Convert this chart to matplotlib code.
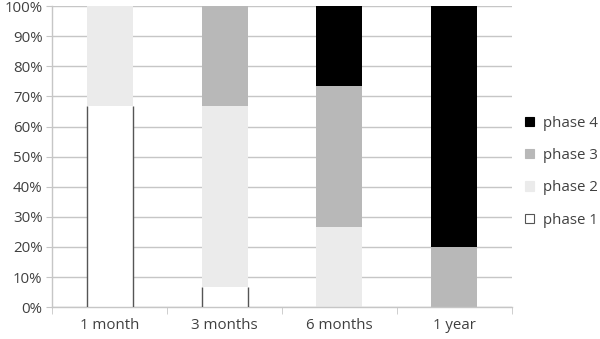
"""Stacked 100% bars of phase shares over follow-up time."""

import matplotlib.pyplot as plt
from matplotlib.patches import Patch
from matplotlib.ticker import PercentFormatter, FixedLocator
import numpy as np


categories = ["1 month", "3 months", "6 months", "1 year"]
phase_names = ["phase 1", "phase 2", "phase 3", "phase 4"]
phase_1 = [66.7, 6.7, 0.0, 0.0]
phase_2 = [33.3, 60.0, 26.7, 0.0]
phase_3 = [0.0, 33.3, 46.6, 20.0]
phase_4 = [0.0, 0.0, 26.7, 80.0]

colors = ["#ffffff", "#ebebeb", "#b8b8b8", "#000000"]
TEXT = "#404040"
GRID = "#c6c6c6"
BAR_W = 0.4
FS = 10.8

plt.rcParams["font.family"] = ["Open Sans", "DejaVu Sans"]

fig = plt.figure(figsize=(6.0, 3.39), dpi=100)
ax = fig.add_axes([0.087, 0.094, 0.766, 0.888])

x = np.arange(len(categories))
series = [phase_1, phase_2, phase_3, phase_4]
bottom = np.zeros(len(categories))
for vals, color in zip(series, colors):
    vals = np.array(vals)
    ax.bar(x, vals, BAR_W, bottom=bottom, color=color, linewidth=0, zorder=2)
    bottom += vals

# phase 1 is white, so only its sides are outlined
p1 = np.array(phase_1)
has_p1 = p1 > 0
ax.vlines(np.concatenate([x[has_p1] - BAR_W / 2, x[has_p1] + BAR_W / 2]),
          0, np.concatenate([p1[has_p1], p1[has_p1]]),
          color="#555555", linewidth=1.0, zorder=3)

ax.set_xlim(-0.5, len(categories) - 0.5)
ax.set_ylim(0, 100)
ax.set_yticks(np.arange(0, 101, 10))
ax.yaxis.set_major_formatter(PercentFormatter(decimals=0))
ax.set_xticks(x)
ax.set_xticklabels(categories)
ax.xaxis.set_minor_locator(FixedLocator(np.arange(len(categories) + 1) - 0.5))
ax.tick_params(axis="x", which="major", length=0, pad=8, labelsize=FS, labelcolor=TEXT)
ax.tick_params(axis="x", which="minor", length=5, color=GRID, direction="out")
ax.tick_params(axis="y", length=4, color=GRID, labelsize=FS, labelcolor=TEXT, pad=3)
ax.grid(axis="y", color=GRID, linewidth=1.0, zorder=0)
ax.set_axisbelow(True)
for side in ("top", "right"):
    ax.spines[side].set_visible(False)
for side in ("left", "bottom"):
    ax.spines[side].set_color(GRID)
    ax.spines[side].set_linewidth(1.0)

handles = [Patch(facecolor=c, edgecolor="#555555" if c == "#ffffff" else c, linewidth=0.8)
           for c in colors]
leg = ax.legend(handles[::-1], phase_names[::-1], loc="center left",
                bbox_to_anchor=(1.0, 0.45), frameon=False, fontsize=FS,
                handlelength=0.55, handleheight=0.55, handletextpad=0.6,
                labelspacing=1.15)
for t in leg.get_texts():
    t.set_color(TEXT)

fig.savefig("out.png", dpi=100)
